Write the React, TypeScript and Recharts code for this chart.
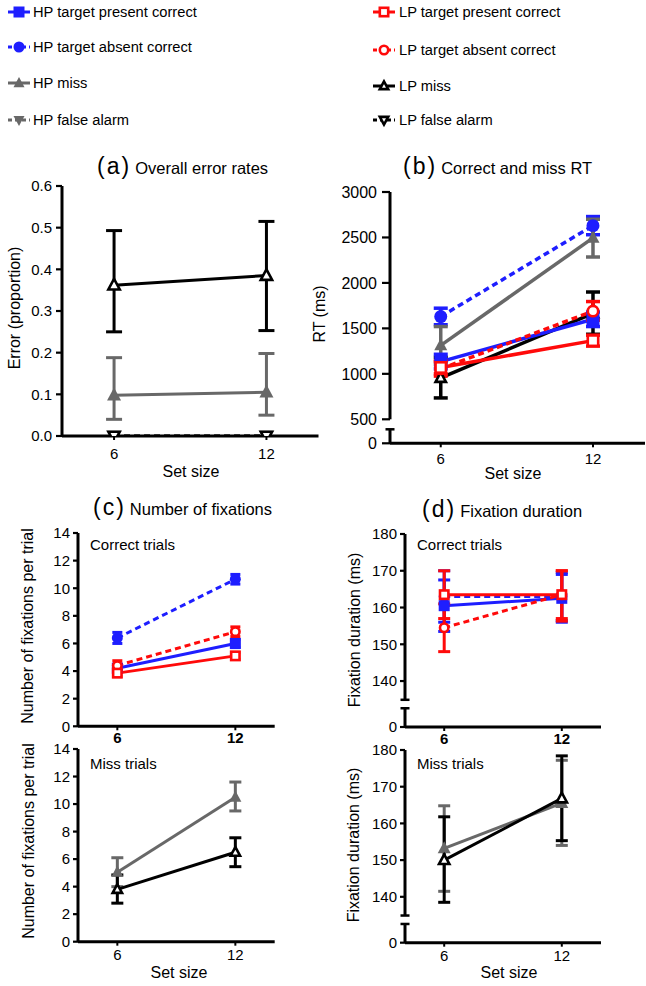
import React from 'react';
import { LineChart, Line, XAxis, YAxis, ErrorBar, ReferenceLine } from 'recharts';

// ---------- categories ----------
const SET_SIZES = [6, 12];

// ---------- colours / series styles ----------
const BLUE = '#1e1eff';
const RED = '#ff0a0a';
const GRAY = '#686868';
const BLACK = '#000000';

type Kind = 'square' | 'circle' | 'up' | 'down';
type Cfg = { name: string; color: string; dashed: boolean; kind: Kind; open: boolean };

const HP_PRESENT: Cfg = { name: 'HP target present correct', color: BLUE, dashed: false, kind: 'square', open: false };
const HP_ABSENT: Cfg = { name: 'HP target absent correct', color: BLUE, dashed: true, kind: 'circle', open: false };
const HP_MISS: Cfg = { name: 'HP miss', color: GRAY, dashed: false, kind: 'up', open: false };
const HP_FA: Cfg = { name: 'HP false alarm', color: GRAY, dashed: true, kind: 'down', open: false };
const LP_PRESENT: Cfg = { name: 'LP target present correct', color: RED, dashed: false, kind: 'square', open: true };
const LP_ABSENT: Cfg = { name: 'LP target absent correct', color: RED, dashed: true, kind: 'circle', open: true };
const LP_MISS: Cfg = { name: 'LP miss', color: BLACK, dashed: false, kind: 'up', open: true };
const LP_FA: Cfg = { name: 'LP false alarm', color: BLACK, dashed: true, kind: 'down', open: true };

const LEGEND_LEFT = [HP_PRESENT, HP_ABSENT, HP_MISS, HP_FA];
const LEGEND_RIGHT = [LP_PRESENT, LP_ABSENT, LP_MISS, LP_FA];

// ---------- (a) overall error rates ----------
const A_HP_MISS = [0.098, 0.105];
const A_HP_MISS_LO = [0.04, 0.05];
const A_HP_MISS_HI = [0.188, 0.198];
const A_LP_MISS = [0.362, 0.385];
const A_LP_MISS_LO = [0.25, 0.253];
const A_LP_MISS_HI = [0.493, 0.515];
const A_HP_FA = [0, 0];
const A_LP_FA = [0, 0];
const A_TICKS = [0, 0.1, 0.2, 0.3, 0.4, 0.5, 0.6];

// ---------- (b) correct and miss RT ----------
const B_HP_PRESENT = [1135, 1600];
const B_HP_PRESENT_LO = [1055, 1520];
const B_HP_PRESENT_HI = [1215, 1680];
const B_HP_ABSENT = [1630, 2630];
const B_HP_ABSENT_LO = [1540, 2530];
const B_HP_ABSENT_HI = [1722, 2730];
const B_HP_MISS = [1313, 2495];
const B_HP_MISS_LO = [1100, 2285];
const B_HP_MISS_HI = [1520, 2700];
const B_LP_PRESENT = [1070, 1365];
const B_LP_PRESENT_LO = [1000, 1305];
const B_LP_PRESENT_HI = [1140, 1425];
const B_LP_ABSENT = [1055, 1690];
const B_LP_ABSENT_LO = [975, 1590];
const B_LP_ABSENT_HI = [1135, 1795];
const B_LP_MISS = [955, 1665];
const B_LP_MISS_LO = [735, 1435];
const B_LP_MISS_HI = [1180, 1900];
const B_ZERO = 236; // where the "0" of the broken axis sits
const B_TICKS = [B_ZERO, 500, 1000, 1500, 2000, 2500, 3000];

// ---------- (c) number of fixations ----------
const C_HP_PRESENT = [4.2, 6.0];
const C_HP_PRESENT_LO = [3.9, 5.7];
const C_HP_PRESENT_HI = [4.5, 6.3];
const C_HP_ABSENT = [6.4, 10.65];
const C_HP_ABSENT_LO = [6.0, 10.3];
const C_HP_ABSENT_HI = [6.8, 11.0];
const C_LP_PRESENT = [3.85, 5.1];
const C_LP_PRESENT_LO = [3.6, 4.85];
const C_LP_PRESENT_HI = [4.1, 5.35];
const C_LP_ABSENT = [4.4, 6.85];
const C_LP_ABSENT_LO = [4.05, 6.5];
const C_LP_ABSENT_HI = [4.75, 7.2];
const C_HP_MISS = [5.05, 10.5];
const C_HP_MISS_LO = [4.0, 9.5];
const C_HP_MISS_HI = [6.1, 11.6];
const C_LP_MISS = [3.8, 6.5];
const C_LP_MISS_LO = [2.8, 5.45];
const C_LP_MISS_HI = [4.85, 7.55];
const C_TICKS = [0, 2, 4, 6, 8, 10, 12, 14];

// ---------- (d) fixation duration ----------
const D_HP_PRESENT = [160.5, 162.5];
const D_HP_PRESENT_LO = [153.5, 156];
const D_HP_PRESENT_HI = [167.5, 169];
const D_HP_ABSENT = [163, 163];
const D_HP_ABSENT_LO = [156, 156.5];
const D_HP_ABSENT_HI = [170, 169.5];
const D_LP_PRESENT = [163.5, 163.5];
const D_LP_PRESENT_LO = [157, 156.3];
const D_LP_PRESENT_HI = [170, 170];
const D_LP_ABSENT = [154.5, 163.5];
const D_LP_ABSENT_LO = [148, 157];
const D_LP_ABSENT_HI = [161, 170];
const D_HP_MISS = [153.2, 165.5];
const D_HP_MISS_LO = [141.5, 154];
const D_HP_MISS_HI = [164.8, 177.2];
const D_LP_MISS = [150, 166.8];
const D_LP_MISS_LO = [138.5, 155.3];
const D_LP_MISS_HI = [161.8, 178.4];
const D_ZERO = 127.5;
const D_TICKS = [D_ZERO, 140, 150, 160, 170, 180];

// ---------- helpers ----------
type Pt = { x: number; y: number; err: [number, number] };
const pts = (mean: number[], lo?: number[], hi?: number[]): Pt[] =>
  SET_SIZES.map((x, i) => ({
    x,
    y: mean[i],
    err: [lo ? mean[i] - lo[i] : 0, hi ? hi[i] - mean[i] : 0],
  }));

function Marker({ cx, cy, cfg, s }: { cx: number; cy: number; cfg: Cfg; s: number }) {
  if (cx == null || cy == null || isNaN(cx) || isNaN(cy)) return null;
  const sw = cfg.open ? 2.6 : 0;
  const fill = cfg.open ? '#ffffff' : cfg.color;
  const stroke = cfg.open ? cfg.color : 'none';
  const e = s / 2 - sw / 2;
  if (cfg.kind === 'square') {
    return <rect x={cx - e} y={cy - e} width={2 * e} height={2 * e} fill={fill} stroke={stroke} strokeWidth={sw} />;
  }
  if (cfg.kind === 'circle') {
    return <circle cx={cx} cy={cy} r={e} fill={fill} stroke={stroke} strokeWidth={sw} />;
  }
  const d = cfg.kind === 'up' ? 1 : -1;
  const p = `${cx},${cy - d * e * 1.1} ${cx - e},${cy + d * e * 0.75} ${cx + e},${cy + d * e * 0.75}`;
  return <polygon points={p} fill={fill} stroke={stroke} strokeWidth={sw} strokeLinejoin="miter" />;
}

type SeriesSpec = { cfg: Cfg; data: Pt[]; hasErr: boolean };

type PanelProps = {
  plot: { l: number; t: number; r: number; b: number };
  xDomain: [number, number];
  yDomain: [number, number];
  yTicks: number[];
  yFmt: (v: number) => string;
  xBold?: boolean;
  xTickMargin: number;
  yTickSize: number;
  yTickMargin: number;
  yFont?: number;
  series: SeriesSpec[];
  brk?: { upperFrom: number; lowerTo: number; upperCap: boolean };
  capW: number;
  msize: number;
  lw: number;
};

function Panel(props: PanelProps) {
  const { plot, xDomain, yDomain, yTicks, yFmt, xBold, xTickMargin, yTickSize, yTickMargin, yFont, series, brk, capW, msize, lw } = props;
  const pw = plot.r - plot.l;
  const ph = plot.b - plot.t;
  const W = pw + 80;
  const H = ph + 80;
  const pxPerX = pw / (xDomain[1] - xDomain[0]);
  const capU = 4.5 / pxPerX;
  const x0 = xDomain[0];
  return (
    <div style={{ position: 'absolute', left: plot.l - 60, top: plot.t - 20 }}>
      <LineChart width={W} height={H} margin={{ top: 20, right: 20, bottom: 30, left: 10 }}>
        <XAxis
          type="number"
          dataKey="x"
          domain={xDomain}
          ticks={SET_SIZES}
          interval={0}
          allowDataOverflow
          height={30}
          axisLine={{ stroke: '#000', strokeWidth: 3 }}
          tickLine={{ stroke: '#000', strokeWidth: 2 }}
          tickSize={4}
          tickMargin={xTickMargin}
          tick={{ fill: '#000', fontSize: 15, fontWeight: xBold ? 700 : 400 }}
        />
        <YAxis
          type="number"
          domain={yDomain}
          ticks={yTicks}
          interval={0}
          allowDataOverflow
          width={50}
          axisLine={brk ? false : { stroke: '#000', strokeWidth: 3 }}
          tickLine={{ stroke: '#000', strokeWidth: 2.2 }}
          tickSize={yTickSize}
          tickMargin={yTickMargin}
          tickFormatter={yFmt}
          tick={{ fill: '#000', fontSize: yFont ?? 15 }}
        />
        {brk && (
          <ReferenceLine
            segment={[{ x: x0, y: brk.upperFrom }, { x: x0, y: yDomain[1] }]}
            stroke="#000"
            strokeWidth={3}
            ifOverflow="visible"
          />
        )}
        {brk && (
          <ReferenceLine
            segment={[{ x: x0, y: yDomain[0] }, { x: x0, y: brk.lowerTo }]}
            stroke="#000"
            strokeWidth={3}
            ifOverflow="visible"
          />
        )}
        {brk && (
          <ReferenceLine
            segment={[{ x: x0 - capU, y: brk.lowerTo }, { x: x0 + capU, y: brk.lowerTo }]}
            stroke="#000"
            strokeWidth={2.5}
            ifOverflow="visible"
          />
        )}
        {brk && brk.upperCap && (
          <ReferenceLine
            segment={[{ x: x0 - capU, y: brk.upperFrom }, { x: x0 + capU, y: brk.upperFrom }]}
            stroke="#000"
            strokeWidth={2.5}
            ifOverflow="visible"
          />
        )}
        {series.map((s, si) => (
          <Line
            key={s.cfg.name}
            data={s.data}
            dataKey="y"
            type="linear"
            stroke={s.cfg.color}
            strokeWidth={lw}
            strokeDasharray={s.cfg.dashed ? '6 4' : undefined}
            isAnimationActive={false}
            activeDot={false}
            dot={(p: any) => <Marker key={`${si}-${p.index}`} cx={p.cx} cy={p.cy} cfg={s.cfg} s={msize} />}
          >
            {s.hasErr && (
              <ErrorBar
                dataKey="err"
                direction="y"
                width={capW}
                stroke={s.cfg.color}
                strokeWidth={lw}
                isAnimationActive={false}
              />
            )}
          </Line>
        ))}
      </LineChart>
    </div>
  );
}

function Txt({ x, y, size, children, rotate, left, weight }: { x: number; y: number; size: number; children: React.ReactNode; rotate?: boolean; left?: boolean; weight?: number }) {
  const tf = left ? 'translate(0,-50%)' : rotate ? 'translate(-50%,-50%) rotate(-90deg)' : 'translate(-50%,-50%)';
  return (
    <div
      style={{
        position: 'absolute',
        left: x,
        top: y,
        transform: tf,
        fontSize: size,
        lineHeight: 1,
        whiteSpace: 'nowrap',
        fontWeight: weight ?? 400,
        color: '#000',
      }}
    >
      {children}
    </div>
  );
}

function Title({ x, y, tag, text }: { x: number; y: number; tag: string; text: string }) {
  return (
    <div
      style={{
        position: 'absolute',
        left: x,
        top: y,
        transform: 'translateY(-50%)',
        whiteSpace: 'nowrap',
        display: 'flex',
        alignItems: 'baseline',
        lineHeight: 1,
        color: '#000',
      }}
    >
      <span style={{ fontSize: 23, letterSpacing: 2 }}>({tag})</span>
      <span style={{ fontSize: 16.5, marginLeft: 4 }}>{text}</span>
    </div>
  );
}

function LegendItem({ cfg, x, y, textX }: { cfg: Cfg; x: number; y: number; textX: number }) {
  return (
    <>
      <svg width={24} height={16} style={{ position: 'absolute', left: x, top: y - 8 }}>
        <line x1={1} y1={8} x2={23} y2={8} stroke={cfg.color} strokeWidth={3} strokeDasharray={cfg.dashed ? '4 3' : undefined} />
        <Marker cx={12} cy={8} cfg={cfg} s={11} />
      </svg>
      <Txt x={textX} y={y} size={14.7} left>
        {cfg.name}
      </Txt>
    </>
  );
}

const fmt1 = (v: number) => v.toFixed(1);
const fmtB = (v: number) => (v === B_ZERO ? '0' : String(v));
const fmtD = (v: number) => (v === D_ZERO ? '0' : String(v));
const fmtN = (v: number) => String(v);

export default function App() {
  const legendLeftY = [12, 47, 83, 120];
  const legendRightY = [12, 50, 86, 120];
  return (
    <div
      style={{
        position: 'absolute',
        left: 0,
        top: 0,
        width: 646,
        height: 986,
        background: '#fff',
        overflow: 'hidden',
        fontFamily: '"Liberation Sans", Arial, Helvetica, sans-serif',
      }}
    >
      {LEGEND_LEFT.map((c, i) => (
        <LegendItem key={c.name} cfg={c} x={7} y={legendLeftY[i]} textX={33} />
      ))}
      {LEGEND_RIGHT.map((c, i) => (
        <LegendItem key={c.name} cfg={c} x={372} y={legendRightY[i]} textX={399} />
      ))}

      {/* (a) */}
      <Title x={97} y={166} tag="a" text="Overall error rates" />
      <Panel
        plot={{ l: 62, t: 186, r: 318.5, b: 436 }}
        xDomain={[3.95, 14.05]}
        yDomain={[0, 0.6]}
        yTicks={A_TICKS}
        yFmt={fmt1}
        xTickMargin={8}
        yTickSize={6}
        yTickMargin={4}
        capW={8}
        msize={14}
        lw={3}
        series={[
          { cfg: HP_MISS, data: pts(A_HP_MISS, A_HP_MISS_LO, A_HP_MISS_HI), hasErr: true },
          { cfg: LP_MISS, data: pts(A_LP_MISS, A_LP_MISS_LO, A_LP_MISS_HI), hasErr: true },
          { cfg: HP_FA, data: pts(A_HP_FA), hasErr: false },
          { cfg: LP_FA, data: pts(A_LP_FA), hasErr: false },
        ]}
      />
      <Txt x={15} y={308} size={16} rotate>
        Error (proportion)
      </Txt>
      <Txt x={191} y={472} size={16}>
        Set size
      </Txt>

      {/* (b) */}
      <Title x={403} y={166} tag="b" text="Correct and miss RT" />
      <Panel
        plot={{ l: 390, t: 191.7, r: 645, b: 443 }}
        xDomain={[4, 14.05]}
        yDomain={[B_ZERO, 3000]}
        yTicks={B_TICKS}
        yFmt={fmtB}
        xTickMargin={6}
        yTickSize={8}
        yTickMargin={5}
        yFont={16}
        brk={{ upperFrom: 500, lowerTo: 390, upperCap: false }}
        capW={7}
        msize={13}
        lw={3.5}
        series={[
          { cfg: HP_ABSENT, data: pts(B_HP_ABSENT, B_HP_ABSENT_LO, B_HP_ABSENT_HI), hasErr: true },
          { cfg: HP_MISS, data: pts(B_HP_MISS, B_HP_MISS_LO, B_HP_MISS_HI), hasErr: true },
          { cfg: LP_MISS, data: pts(B_LP_MISS, B_LP_MISS_LO, B_LP_MISS_HI), hasErr: true },
          { cfg: HP_PRESENT, data: pts(B_HP_PRESENT, B_HP_PRESENT_LO, B_HP_PRESENT_HI), hasErr: true },
          { cfg: LP_ABSENT, data: pts(B_LP_ABSENT, B_LP_ABSENT_LO, B_LP_ABSENT_HI), hasErr: true },
          { cfg: LP_PRESENT, data: pts(B_LP_PRESENT, B_LP_PRESENT_LO, B_LP_PRESENT_HI), hasErr: true },
        ]}
      />
      <Txt x={320} y={314} size={16} rotate>
        RT (ms)
      </Txt>
      <Txt x={513} y={474} size={16}>
        Set size
      </Txt>

      {/* (c) */}
      <Title x={93} y={507} tag="c" text="Number of fixations" />
      <Panel
        plot={{ l: 78.3, t: 532.7, r: 275, b: 726 }}
        xDomain={[4, 14]}
        yDomain={[0, 14]}
        yTicks={C_TICKS}
        yFmt={fmtN}
        xBold
        xTickMargin={2}
        yTickSize={5}
        yTickMargin={3}
        capW={5}
        msize={11}
        lw={3}
        series={[
          { cfg: HP_ABSENT, data: pts(C_HP_ABSENT, C_HP_ABSENT_LO, C_HP_ABSENT_HI), hasErr: true },
          { cfg: HP_PRESENT, data: pts(C_HP_PRESENT, C_HP_PRESENT_LO, C_HP_PRESENT_HI), hasErr: true },
          { cfg: LP_ABSENT, data: pts(C_LP_ABSENT, C_LP_ABSENT_LO, C_LP_ABSENT_HI), hasErr: true },
          { cfg: LP_PRESENT, data: pts(C_LP_PRESENT, C_LP_PRESENT_LO, C_LP_PRESENT_HI), hasErr: true },
        ]}
      />
      <Txt x={90} y={544} size={15} left>
        Correct trials
      </Txt>
      <Txt x={28} y={626} size={16} rotate>
        Number of fixations per trial
      </Txt>

      <Panel
        plot={{ l: 78.3, t: 749, r: 275, b: 941.7 }}
        xDomain={[4, 14]}
        yDomain={[0, 14]}
        yTicks={C_TICKS}
        yFmt={fmtN}
        xTickMargin={4}
        yTickSize={5}
        yTickMargin={3}
        capW={6}
        msize={12}
        lw={3}
        series={[
          { cfg: HP_MISS, data: pts(C_HP_MISS, C_HP_MISS_LO, C_HP_MISS_HI), hasErr: true },
          { cfg: LP_MISS, data: pts(C_LP_MISS, C_LP_MISS_LO, C_LP_MISS_HI), hasErr: true },
        ]}
      />
      <Txt x={90} y={763} size={15} left>
        Miss trials
      </Txt>
      <Txt x={29} y={841} size={16} rotate>
        Number of fixations per trial
      </Txt>
      <Txt x={179} y={973} size={16}>
        Set size
      </Txt>

      {/* (d) */}
      <Title x={422} y={509} tag="d" text="Fixation duration" />
      <Panel
        plot={{ l: 405, t: 534, r: 601, b: 727 }}
        xDomain={[4, 14]}
        yDomain={[D_ZERO, 180]}
        yTicks={D_TICKS}
        yFmt={fmtD}
        xBold
        xTickMargin={2}
        yTickSize={5}
        yTickMargin={3}
        brk={{ upperFrom: 134.9, lowerTo: 132.6, upperCap: true }}
        capW={6}
        msize={11}
        lw={3}
        series={[
          { cfg: HP_PRESENT, data: pts(D_HP_PRESENT, D_HP_PRESENT_LO, D_HP_PRESENT_HI), hasErr: true },
          { cfg: HP_ABSENT, data: pts(D_HP_ABSENT, D_HP_ABSENT_LO, D_HP_ABSENT_HI), hasErr: true },
          { cfg: LP_ABSENT, data: pts(D_LP_ABSENT, D_LP_ABSENT_LO, D_LP_ABSENT_HI), hasErr: true },
          { cfg: LP_PRESENT, data: pts(D_LP_PRESENT, D_LP_PRESENT_LO, D_LP_PRESENT_HI), hasErr: true },
        ]}
      />
      <Txt x={417} y={544} size={15} left>
        Correct trials
      </Txt>
      <Txt x={355} y={630} size={16} rotate>
        Fixation duration (ms)
      </Txt>

      <Panel
        plot={{ l: 405, t: 750, r: 601, b: 942.7 }}
        xDomain={[4, 14]}
        yDomain={[D_ZERO, 180]}
        yTicks={D_TICKS}
        yFmt={fmtD}
        xTickMargin={4}
        yTickSize={5}
        yTickMargin={3}
        brk={{ upperFrom: 134.9, lowerTo: 132.6, upperCap: true }}
        capW={6}
        msize={13}
        lw={3}
        series={[
          { cfg: HP_MISS, data: pts(D_HP_MISS, D_HP_MISS_LO, D_HP_MISS_HI), hasErr: true },
          { cfg: LP_MISS, data: pts(D_LP_MISS, D_LP_MISS_LO, D_LP_MISS_HI), hasErr: true },
        ]}
      />
      <Txt x={417} y={763} size={15} left>
        Miss trials
      </Txt>
      <Txt x={354} y={845} size={16} rotate>
        Fixation duration (ms)
      </Txt>
      <Txt x={509} y={973} size={16}>
        Set size
      </Txt>
    </div>
  );
}
